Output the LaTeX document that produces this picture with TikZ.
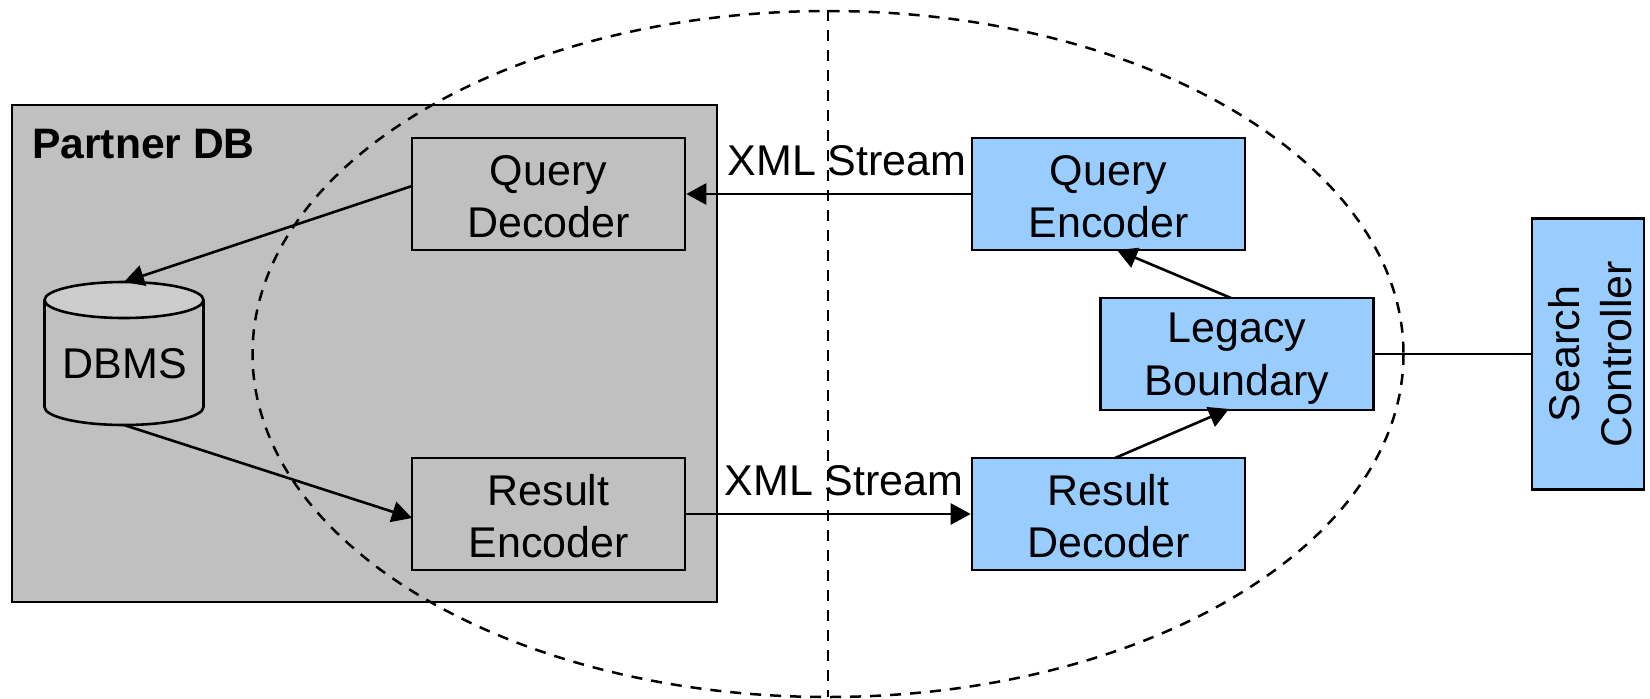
\documentclass[tikz,border=0pt]{standalone}
\usepackage{fontspec}
\setmainfont{Liberation Sans}
\usetikzlibrary{arrows.meta,calc}
\definecolor{partnergrey}{HTML}{C0C0C0}
\definecolor{toplight}{HTML}{CCCCCC}
\definecolor{paleblue}{HTML}{99CCFF}
\newcommand{\tl}{\rule{0pt}{35pt}}
\newcommand{\tll}{\rule{0pt}{39pt}}
\tikzset{
  box/.style={draw=black,line width=2.6pt,minimum width=273pt,minimum height=112pt,inner sep=0pt,align=center,font=\fontsize{43}{52.5}\selectfont},
  graybox/.style={box},
  bluebox/.style={box,fill=paleblue},
  conn/.style={draw=black,line width=2.6pt},
  arr/.style={conn,-{Triangle[length=20pt,width=21pt]}},
  dashline/.style={draw=black,line width=2.5pt,dash pattern=on 11pt off 9pt},
  lbl/.style={inner sep=0pt,font=\fontsize{43}{52.5}\selectfont}
}
\begin{document}
\begin{tikzpicture}[x=1pt,y=-1pt]
\useasboundingbox (0,0) rectangle (1650,699);
\fill[white] (0,0) rectangle (1650,699);
\node[draw=black,line width=2.6pt,fill=partnergrey,minimum width=705pt,minimum height=497pt,inner sep=0pt] (partner) at (364.5,353.5) {};
\node[lbl,anchor=base west,font=\fontsize{42.6}{52}\selectfont\bfseries] (ptitle) at (32,158) {Partner DB};
\draw[dashline] (828,354) ellipse [x radius=575.5,y radius=343];
\coordinate (vtop) at (828,10);
\coordinate (vbot) at (828,697);
\draw[dashline] (vtop) -- (vbot);
% cylinder
\path[fill=partnergrey,draw=black,line width=2.6pt] (44.5,300) -- (44.5,407) arc[start angle=180,end angle=0,x radius=79.5,y radius=18] -- (203.5,300);
\path[fill=toplight,draw=black,line width=2.6pt] (124,300) ellipse [x radius=79.5,y radius=18];
\node[lbl] (dbms) at (125,364) {DBMS};
\coordinate (dbtop) at (124,282);
\coordinate (dbbot) at (124,425);
\node[graybox] (qd) at (548.5,194) {\tl Query\\Decoder};
\node[graybox] (re) at (548.5,514) {\tl Result\\Encoder};
\node[bluebox] (qe) at (1108.5,194) {\tl Query\\Encoder};
\node[bluebox] (lb) at (1237,354) {\tll Legacy\\Boundary};
\node[bluebox] (rd) at (1108.5,514) {\tl Result\\Decoder};
\node[bluebox,rotate=90,minimum width=271pt,minimum height=112pt] (sc) at (1588,354) {\tl Search\\Controller};
\coordinate (lbtop) at (1231,298);
\coordinate (qebot) at (1117,250);
\coordinate (rdtop) at (1115,458);
\coordinate (lbbot) at (1229,409);
\coordinate (qdl) at (412,186);
\coordinate (rel) at (412,518);
\draw[arr] (qdl) -- (dbtop);
\draw[arr] (dbbot) -- (rel);
\draw[arr] (qe.west) -- (qd.east);
\draw[arr] (re.east) -- (rd.west);
\draw[arr] (lbtop) -- (qebot);
\draw[arr] (rdtop) -- (lbbot);
\draw[conn] (lb.east) -- (sc.north);
\node[lbl] (x1) at (847,161) {XML Stream};
\node[lbl] (x2) at (844,481) {XML Stream};
\end{tikzpicture}
\end{document}
